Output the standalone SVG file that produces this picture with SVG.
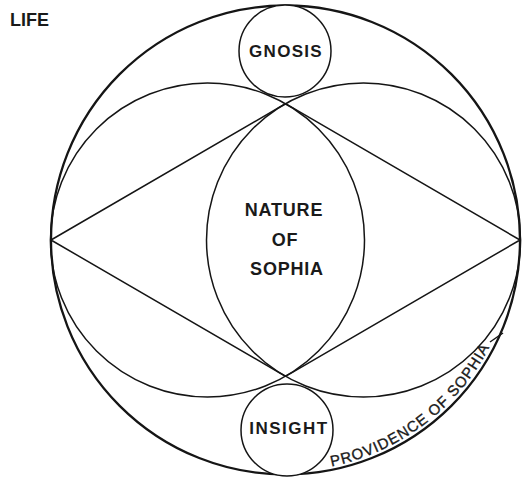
<svg xmlns="http://www.w3.org/2000/svg" xmlns:xlink="http://www.w3.org/1999/xlink" width="525" height="482" viewBox="0 0 525 482">
  <style>
    .bg { fill: #ffffff; }
    .outer { fill: none; stroke: #151515; stroke-width: 2.3; }
    .line { fill: none; stroke: #151515; stroke-width: 1.5; stroke-linejoin: round; }
    .node { fill: #ffffff; stroke: #151515; stroke-width: 1.5; }
    .lbl { font-family: "Liberation Sans", Arial, Helvetica, sans-serif; font-weight: bold; fill: #1a1a1a; text-anchor: middle; }
    .arc { font-family: "Liberation Sans", Arial, Helvetica, sans-serif; font-size: 15px; fill: #1a1a1a; stroke: #1a1a1a; stroke-width: 0.35; letter-spacing: 1px; }
  </style>
  <defs>
    <path id="provPath" d="M 331.5 466.4 A 230 230 0 0 0 515.5 245"/>
  </defs>
  <rect class="bg" x="0" y="0" width="525" height="482"/>

  <g id="life">
    <circle class="outer" cx="285.5" cy="240" r="234.5"/>
    <text class="lbl" x="10" y="26" font-size="18" style="text-anchor:start">LIFE</text>
  </g>

  <g id="connectors">
    <circle class="line" cx="207.5" cy="240" r="157"/>
    <circle class="line" cx="363.5" cy="240" r="157"/>
    <path class="line" d="M 51 240 L 285.5 103.7 L 520 240 L 285.5 376.3 Z"/>
    <line class="line" x1="490" y1="342" x2="503" y2="333"/>
  </g>

  <g id="gnosis">
    <circle class="node" cx="285" cy="51" r="46"/>
    <text class="lbl" x="286" y="57" font-size="17" letter-spacing="1.3">GNOSIS</text>
  </g>

  <g id="insight">
    <circle class="node" cx="287" cy="430" r="46"/>
    <text class="lbl" x="289" y="434" font-size="17" letter-spacing="1.5">INSIGHT</text>
  </g>

  <g id="nature-of-sophia">
    <text class="lbl" x="284" y="216" font-size="18" letter-spacing="0.8">NATURE</text>
    <text class="lbl" x="285" y="246" font-size="18" letter-spacing="0.8">OF</text>
    <text class="lbl" x="287" y="275" font-size="18" letter-spacing="0.8">SOPHIA</text>
  </g>

  <g id="providence-of-sophia">
    <text class="arc"><textPath xlink:href="#provPath" href="#provPath">PROVIDENCE OF SOPHIA</textPath></text>
  </g>
</svg>
